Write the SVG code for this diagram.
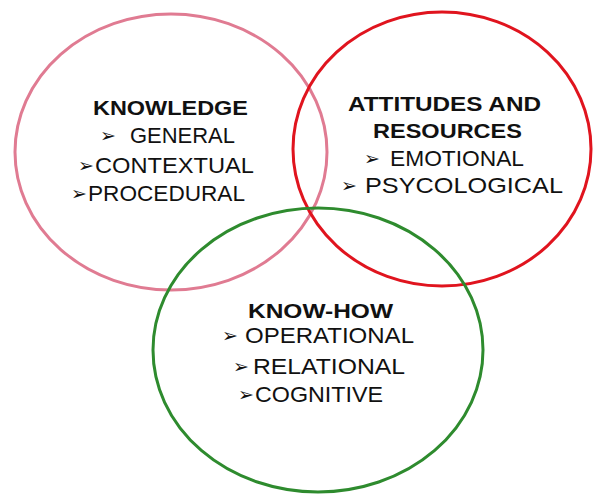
<svg xmlns="http://www.w3.org/2000/svg" width="594" height="495" viewBox="0 0 594 495">
  <style>
    .ring { fill: none; stroke-width: 3; }
    .head { font-family: "Liberation Sans", Arial, sans-serif; font-weight: bold; font-size: 20px; fill: #111; }
    .item { font-family: "Liberation Sans", Arial, sans-serif; font-size: 22px; fill: #111; }
    text tspan.bul { font-family: "DejaVu Sans", "Noto Sans Symbols 2", sans-serif; font-size: 19px; }
  </style>
  <rect width="594" height="495" fill="#ffffff"/>

  <g id="knowledge">
    <ellipse class="ring" cx="171" cy="152" rx="156" ry="138" stroke="#e07b92"/>
    <text class="head" x="93" y="115" textLength="155" lengthAdjust="spacingAndGlyphs">KNOWLEDGE</text>
    <text class="item" y="143"><tspan class="bul" x="100" dy="-1">➢</tspan><tspan x="130" dy="1" textLength="105" lengthAdjust="spacingAndGlyphs">GENERAL</tspan></text>
    <text class="item" y="173"><tspan class="bul" x="78" dy="-1">➢</tspan><tspan x="95" dy="1" textLength="159" lengthAdjust="spacingAndGlyphs">CONTEXTUAL</tspan></text>
    <text class="item" y="201"><tspan class="bul" x="71" dy="-1">➢</tspan><tspan x="88" dy="1" textLength="157" lengthAdjust="spacingAndGlyphs">PROCEDURAL</tspan></text>
  </g>

  <g id="attitudes">
    <ellipse class="ring" cx="442" cy="149" rx="149" ry="137" stroke="#e0141e"/>
    <text class="head" x="348" y="111" textLength="193" lengthAdjust="spacingAndGlyphs">ATTITUDES AND</text>
    <text class="head" x="373" y="138" textLength="149" lengthAdjust="spacingAndGlyphs">RESOURCES</text>
    <text class="item" y="166"><tspan class="bul" x="364" dy="-1">➢</tspan><tspan x="390" dy="1" textLength="134" lengthAdjust="spacingAndGlyphs">EMOTIONAL</tspan></text>
    <text class="item" y="193"><tspan class="bul" x="341" dy="-1">➢</tspan><tspan x="365" dy="1" textLength="198" lengthAdjust="spacingAndGlyphs">PSYCOLOGICAL</tspan></text>
  </g>

  <g id="know-how">
    <ellipse class="ring" cx="318" cy="350" rx="165" ry="142" stroke="#2e8b2e"/>
    <text class="head" x="248" y="318" textLength="145" lengthAdjust="spacingAndGlyphs">KNOW-HOW</text>
    <text class="item" y="343"><tspan class="bul" x="222" dy="-1">➢</tspan><tspan x="245" dy="1" textLength="169" lengthAdjust="spacingAndGlyphs">OPERATIONAL</tspan></text>
    <text class="item" y="374"><tspan class="bul" x="233" dy="-1">➢</tspan><tspan x="253" dy="1" textLength="152" lengthAdjust="spacingAndGlyphs">RELATIONAL</tspan></text>
    <text class="item" y="402"><tspan class="bul" x="238" dy="-1">➢</tspan><tspan x="255" dy="1" textLength="128" lengthAdjust="spacingAndGlyphs">COGNITIVE</tspan></text>
  </g>

  <g id="connectors"/>
</svg>
